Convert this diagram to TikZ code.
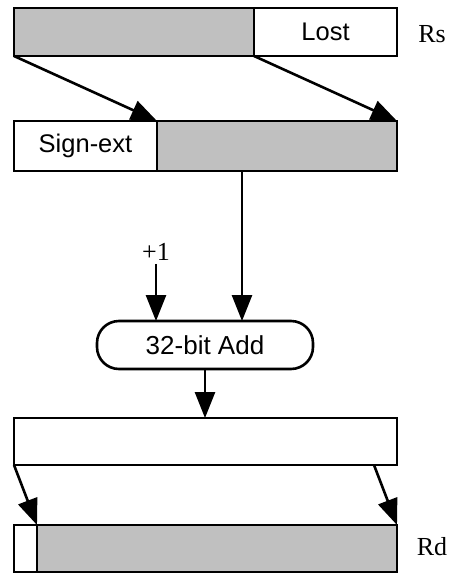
\documentclass[tikz,border=0pt]{standalone}
\usepackage{fontspec}
\setmainfont{Liberation Serif}
\setsansfont{Liberation Sans}
\usetikzlibrary{arrows.meta,positioning,calc}
\definecolor{regfill}{RGB}{192,192,192}
\tikzset{
  regbox/.style={draw, line width=2.6pt, rectangle, inner sep=0pt, outer sep=0pt, anchor=north west,
    font=\sffamily\fontsize{25.5}{30}\selectfont},
  grayreg/.style={regbox, fill=regfill},
  whitereg/.style={regbox, fill=white},
  conn/.style={line width=2.6pt, -{Triangle[length=26pt,width=20pt]}},
  serlabel/.style={font=\rmfamily\fontsize{26}{30}\selectfont, inner sep=3pt},
  addbox/.style={draw, line width=2.6pt, rounded corners=22pt, minimum width=216pt, minimum height=48pt,
    inner sep=0pt, outer sep=0pt, font=\sffamily\fontsize{26}{30}\selectfont}
}
\begin{document}
\begin{tikzpicture}[x={(1pt,0)}, y={(0,-1pt)}]
\useasboundingbox (0,0) rectangle (449,574);
% Rs register
\node[grayreg, minimum width=240pt, minimum height=48pt] (rsA) at (14,8) {};
\node[whitereg, minimum width=143pt, minimum height=48pt] (rsB) at (254,8) {Lost};
\node[serlabel] (rs) at (432,34) {Rs};
% second register
\node[whitereg, minimum width=143pt, minimum height=50pt] (sgn) at (14,121) {Sign-ext};
\node[grayreg, minimum width=240pt, minimum height=50pt] (g2) at (157,121) {};
% add
\node[addbox] (add) at (205,345) {32-bit Add};
\node[serlabel] (plus) at (156,252) {+1};
\coordinate (a2) at (242,321);
% third register
\node[whitereg, minimum width=383pt, minimum height=47pt] (r3) at (14,418) {};
\coordinate (r3r) at (374,465);
% bottom register
\node[whitereg, minimum width=23pt, minimum height=47pt] (b1) at (14,525) {};
\node[grayreg, minimum width=360pt, minimum height=47pt] (b2) at (37,525) {};
\node[serlabel] (rd) at (432,547) {Rd};
% connectors
\draw[conn] (rsA.south west) -- (sgn.north east);
\draw[conn] (rsB.south west) -- (g2.north east);
\draw[conn] (g2.south -| a2) -- (a2);
\draw[conn] (plus.south) -- (plus.south |- add.north);
\draw[conn] (add.south) -- (add.south |- r3.north);
\draw[conn] (r3.south west) -- (b1.north east);
\draw[conn] (r3r) -- (b2.north east);
\end{tikzpicture}
\end{document}
